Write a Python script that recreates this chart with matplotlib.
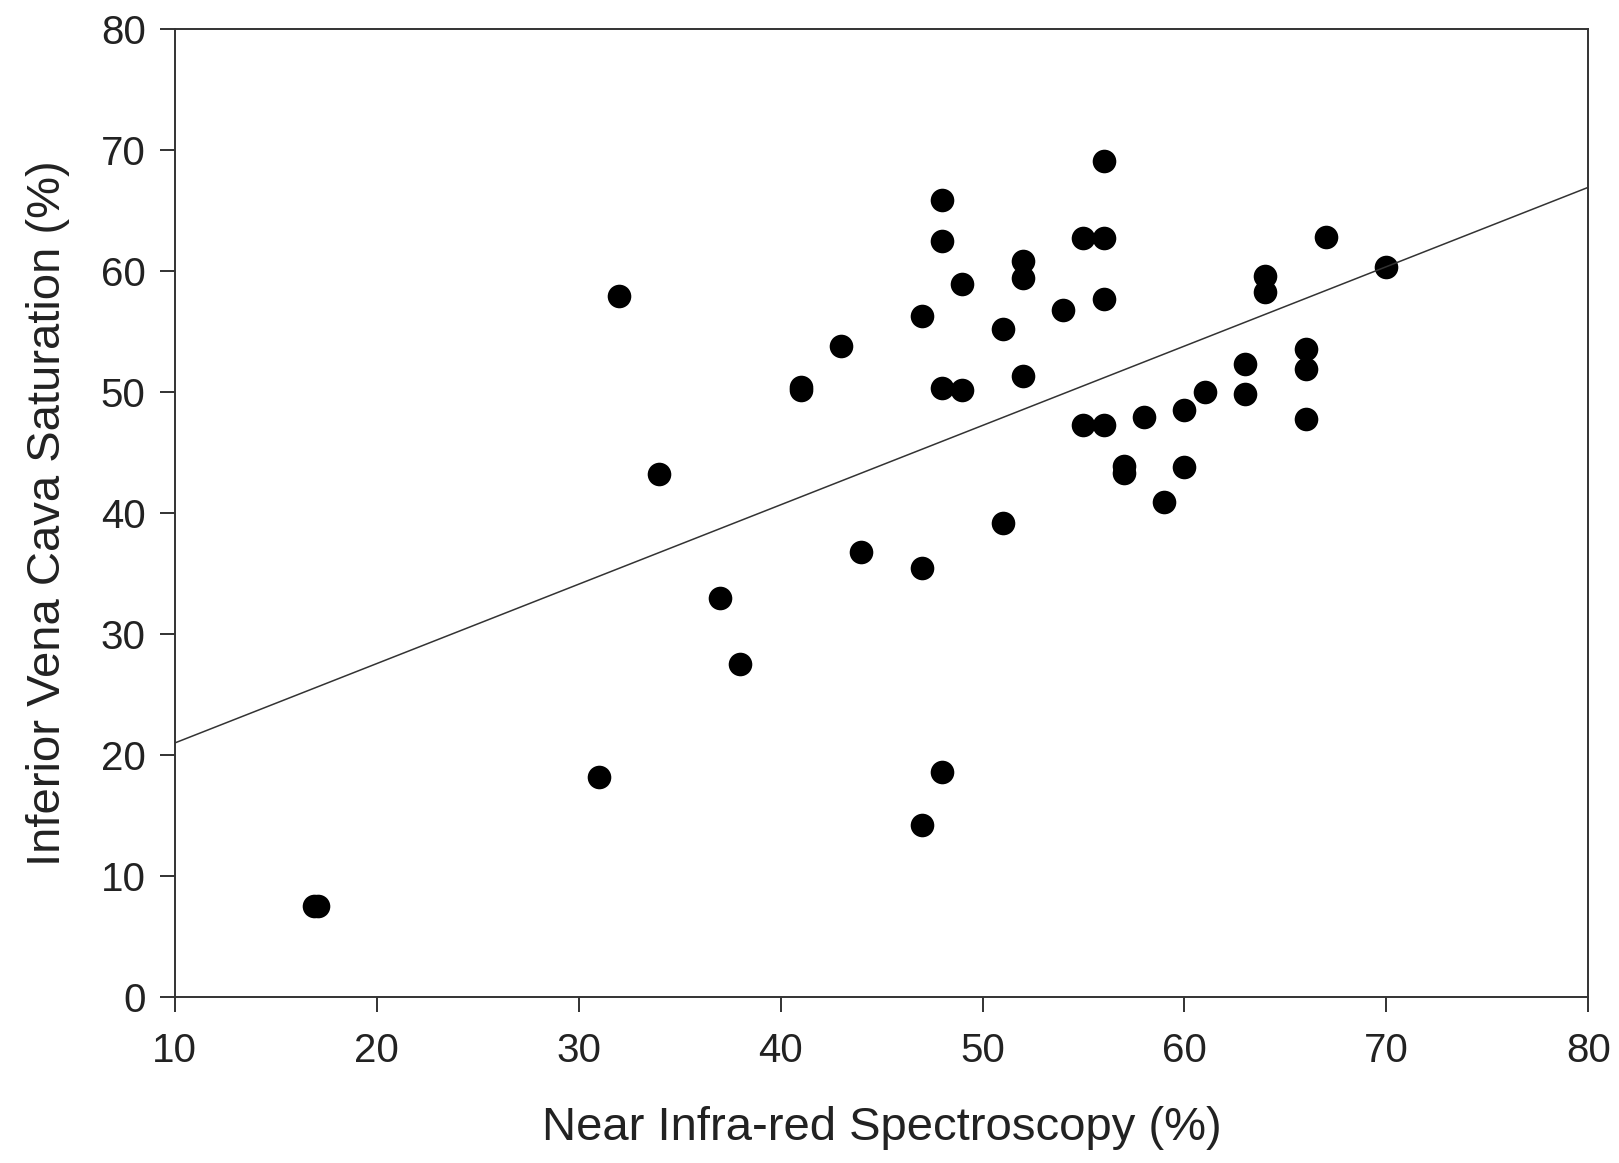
import matplotlib
matplotlib.use("Agg")
import matplotlib.pyplot as plt
import numpy as np

# scatter data
nirs = [16.9, 17.1, 31, 32, 34, 37, 38, 41, 41, 43, 44,
        47, 47, 47, 48, 48, 48, 48, 49, 49,
        51, 51, 52, 52, 52, 54, 55, 55, 56, 56, 56, 56,
        57, 57, 58, 59, 60, 60, 61, 63, 63, 64, 64,
        66, 66, 66, 67, 70]
ivc = [7.5, 7.5, 18.2, 57.9, 43.2, 33.0, 27.5, 50.2, 50.4, 53.8, 36.8,
       56.3, 35.5, 14.2, 65.9, 62.5, 50.3, 18.6, 50.2, 58.9,
       55.2, 39.2, 60.8, 59.4, 51.3, 56.8, 62.7, 47.3, 62.7, 69.1, 57.7, 47.3,
       43.9, 43.3, 47.9, 40.9, 48.5, 43.8, 50.0, 52.3, 49.8, 59.6, 58.3,
       53.6, 51.9, 47.8, 62.8, 60.3]

# regression line (intercept, slope)
fit_b = 14.44
fit_m = 0.656

xticks = [10, 20, 30, 40, 50, 60, 70, 80]
yticks = [0, 10, 20, 30, 40, 50, 60, 70, 80]

plt.rcParams['font.family'] = ['Liberation Sans', 'DejaVu Sans']

fig = plt.figure(figsize=(16.19, 11.63), dpi=100)
ax = fig.add_axes([0.108, 0.1427, 0.873, 0.8323])

ax.plot(nirs, ivc, 'o', color='black', markersize=17, markeredgewidth=0)
xl = np.array([10, 80])
ax.plot(xl, fit_b + fit_m * xl, color='#333333', linewidth=1.1)

ax.set_xlim(10, 80)
ax.set_ylim(0, 80)
ax.set_xticks(xticks)
ax.set_yticks(yticks)
ax.tick_params(direction='out', length=11, width=1.3, labelsize=29,
               colors='#222222')
ax.tick_params(axis='x', pad=14)
ax.tick_params(axis='y', pad=10)
ax.tick_params(top=False, right=False)
for s in ax.spines.values():
    s.set_linewidth(1.4)
    s.set_color('#333333')

ax.set_xlabel('Near Infra-red Spectroscopy (%)', fontsize=34, color='#222222', labelpad=26)
ax.set_ylabel('Inferior Vena Cava Saturation (%)', fontsize=34, color='#222222', labelpad=22)

fig.savefig('out.png', dpi=100)
